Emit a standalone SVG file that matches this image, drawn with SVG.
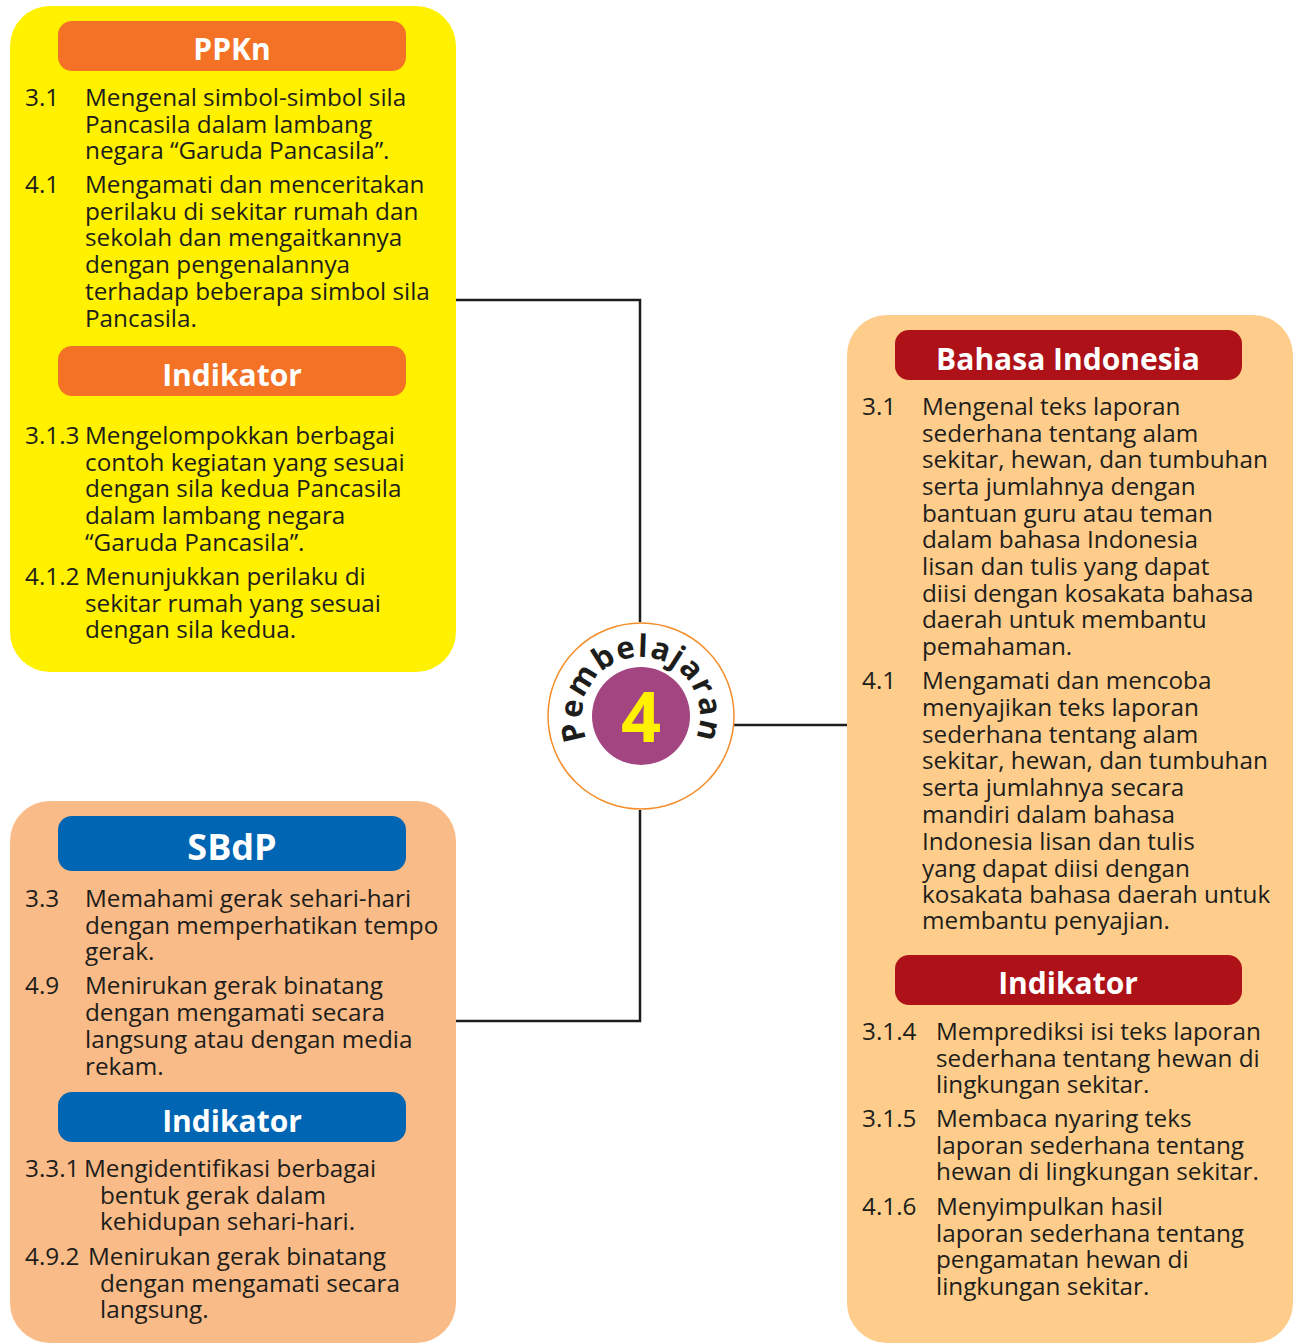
<svg xmlns="http://www.w3.org/2000/svg" xmlns:xlink="http://www.w3.org/1999/xlink" width="1295" height="1344" viewBox="0 0 1295 1344">
<style>
.t{font-family:"Open Sans","Noto Sans","Liberation Sans",sans-serif;font-size:24.3px;fill:#1d1d1b}
.h{font-family:"Open Sans","Noto Sans","Liberation Sans",sans-serif;font-size:30px;font-weight:bold;fill:#ffffff;text-anchor:middle}
.conn{fill:none;stroke:#1d1d1b;stroke-width:2.5}
</style>
<defs>
<path id="arc" d="M 589.9 745.5 A 59 59 0 1 1 692.1 745.5"/>
</defs>
<rect width="1295" height="1344" fill="#ffffff"/>

<g id="connectors">
<polyline class="conn" points="456,300 640,300 640,622"/>
<line class="conn" x1="734" y1="725" x2="848" y2="725"/>
<polyline class="conn" points="640,810 640,1021 456,1021"/>
</g>

<g id="ppkn">
<rect x="10" y="6" width="446" height="666" rx="40" fill="#FFF100"/>
<rect x="58" y="21" width="348" height="50" rx="14" fill="#F37226"/>
<text class="h" x="232" y="60">PPKn</text>
<text class="t" x="25" y="106">3.1</text>
<text class="t" x="85" y="106">Mengenal simbol-simbol sila</text>
<text class="t" x="85" y="133">Pancasila dalam lambang</text>
<text class="t" x="85" y="159">negara “Garuda Pancasila”.</text>
<text class="t" x="25" y="193">4.1</text>
<text class="t" x="85" y="193">Mengamati dan menceritakan</text>
<text class="t" x="85" y="220">perilaku di sekitar rumah dan</text>
<text class="t" x="85" y="246">sekolah dan mengaitkannya</text>
<text class="t" x="85" y="273">dengan pengenalannya</text>
<text class="t" x="85" y="300">terhadap beberapa simbol sila</text>
<text class="t" x="85" y="327">Pancasila.</text>
<rect x="58" y="346" width="348" height="50" rx="14" fill="#F37226"/>
<text class="h" x="232" y="386">Indikator</text>
<text class="t" x="25" y="444">3.1.3</text>
<text class="t" x="85" y="444">Mengelompokkan berbagai</text>
<text class="t" x="85" y="471">contoh kegiatan yang sesuai</text>
<text class="t" x="85" y="497">dengan sila kedua Pancasila</text>
<text class="t" x="85" y="524">dalam lambang negara</text>
<text class="t" x="85" y="551">“Garuda Pancasila”.</text>
<text class="t" x="25" y="585">4.1.2</text>
<text class="t" x="85" y="585">Menunjukkan perilaku di</text>
<text class="t" x="85" y="612">sekitar rumah yang sesuai</text>
<text class="t" x="85" y="638">dengan sila kedua.</text>
</g>

<g id="center">
<circle cx="641" cy="716" r="93" fill="#ffffff" stroke="#F58D2A" stroke-width="1.5"/>
<circle cx="641" cy="716" r="49" fill="#A34580"/>
<text x="641" y="742" text-anchor="middle" font-family="'Open Sans','Noto Sans',sans-serif" font-weight="bold" font-size="70" fill="#FFF100">4</text>
<text font-family="'Open Sans','Noto Sans',sans-serif" font-weight="bold" font-size="31" letter-spacing="1.4" fill="#1d1d1b"><textPath xlink:href="#arc" href="#arc" startOffset="50%" text-anchor="middle">Pembelajaran</textPath></text>
</g>

<g id="bahasa">
<rect x="847" y="315" width="446" height="1028" rx="40" fill="#FECD8B"/>
<rect x="895" y="330" width="347" height="50" rx="14" fill="#AE1117"/>
<text class="h" x="1068" y="370">Bahasa Indonesia</text>
<text class="t" x="862" y="415">3.1</text>
<text class="t" x="922" y="415">Mengenal teks laporan</text>
<text class="t" x="922" y="442">sederhana tentang alam</text>
<text class="t" x="922" y="468">sekitar, hewan, dan tumbuhan</text>
<text class="t" x="922" y="495">serta jumlahnya dengan</text>
<text class="t" x="922" y="522">bantuan guru atau teman</text>
<text class="t" x="922" y="548">dalam bahasa Indonesia</text>
<text class="t" x="922" y="575">lisan dan tulis yang dapat</text>
<text class="t" x="922" y="602">diisi dengan kosakata bahasa</text>
<text class="t" x="922" y="628">daerah untuk membantu</text>
<text class="t" x="922" y="655">pemahaman.</text>
<text class="t" x="862" y="689">4.1</text>
<text class="t" x="922" y="689">Mengamati dan mencoba</text>
<text class="t" x="922" y="716">menyajikan teks laporan</text>
<text class="t" x="922" y="743">sederhana tentang alam</text>
<text class="t" x="922" y="769">sekitar, hewan, dan tumbuhan</text>
<text class="t" x="922" y="796">serta jumlahnya secara</text>
<text class="t" x="922" y="823">mandiri dalam bahasa</text>
<text class="t" x="922" y="850">Indonesia lisan dan tulis</text>
<text class="t" x="922" y="877">yang dapat diisi dengan</text>
<text class="t" x="922" y="903">kosakata bahasa daerah untuk</text>
<text class="t" x="922" y="929">membantu penyajian.</text>
<rect x="895" y="955" width="347" height="50" rx="14" fill="#AE1117"/>
<text class="h" x="1068" y="994">Indikator</text>
<text class="t" x="862" y="1040">3.1.4</text>
<text class="t" x="936" y="1040">Memprediksi isi teks laporan</text>
<text class="t" x="936" y="1067">sederhana tentang hewan di</text>
<text class="t" x="936" y="1093">lingkungan sekitar.</text>
<text class="t" x="862" y="1127">3.1.5</text>
<text class="t" x="936" y="1127">Membaca nyaring teks</text>
<text class="t" x="936" y="1154">laporan sederhana tentang</text>
<text class="t" x="936" y="1180">hewan di lingkungan sekitar.</text>
<text class="t" x="862" y="1215">4.1.6</text>
<text class="t" x="936" y="1215">Menyimpulkan hasil</text>
<text class="t" x="936" y="1242">laporan sederhana tentang</text>
<text class="t" x="936" y="1268">pengamatan hewan di</text>
<text class="t" x="936" y="1295">lingkungan sekitar.</text>
</g>

<g id="sbdp">
<rect x="10" y="801" width="446" height="542" rx="40" fill="#F9BB87"/>
<rect x="58" y="816" width="348" height="55" rx="14" fill="#0065B2"/>
<text class="h" x="232" y="860" style="font-size:36px">SBdP</text>
<text class="t" x="25" y="907">3.3</text>
<text class="t" x="85" y="907">Memahami gerak sehari-hari</text>
<text class="t" x="85" y="934">dengan memperhatikan tempo</text>
<text class="t" x="85" y="960">gerak.</text>
<text class="t" x="25" y="994">4.9</text>
<text class="t" x="85" y="994">Menirukan gerak binatang</text>
<text class="t" x="85" y="1021">dengan mengamati secara</text>
<text class="t" x="85" y="1048">langsung atau dengan media</text>
<text class="t" x="85" y="1075">rekam.</text>
<rect x="58" y="1092" width="348" height="50" rx="14" fill="#0065B2"/>
<text class="h" x="232" y="1132">Indikator</text>
<text class="t" x="25" y="1177">3.3.1</text>
<text class="t" x="84" y="1177">Mengidentifikasi berbagai</text>
<text class="t" x="100" y="1204">bentuk gerak dalam</text>
<text class="t" x="100" y="1230">kehidupan sehari-hari.</text>
<text class="t" x="25" y="1265">4.9.2</text>
<text class="t" x="88" y="1265">Menirukan gerak binatang</text>
<text class="t" x="100" y="1292">dengan mengamati secara</text>
<text class="t" x="100" y="1318">langsung.</text>
</g>
</svg>
